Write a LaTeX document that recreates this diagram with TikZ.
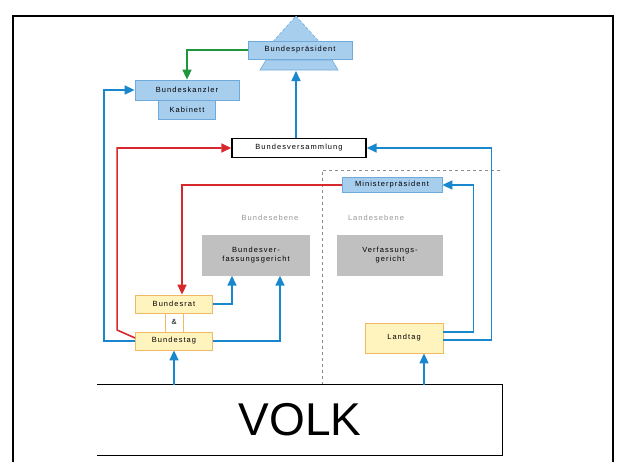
\documentclass[tikz,border=0pt]{standalone}
\usepackage{fontspec}
\setmainfont{Liberation Sans}
\newfontfamily\schild[LetterSpace=14]{Liberation Sans}
\usepackage{tikz}
\usetikzlibrary{arrows.meta,calc,positioning}
\definecolor{amtblau}{RGB}{168,206,238}
\definecolor{amtrand}{RGB}{110,170,220}
\definecolor{pfeilblau}{RGB}{25,135,205}
\definecolor{pfeilrot}{RGB}{215,40,45}
\definecolor{pfeilgruen}{RGB}{30,150,60}
\definecolor{parlgelb}{RGB}{255,243,190}
\definecolor{parlrand}{RGB}{240,185,100}
\definecolor{gerichtgrau}{RGB}{192,192,192}
\definecolor{ebenegrau}{RGB}{150,150,150}
\tikzset{
  >={Triangle[length=10pt,width=9pt]},
  amt/.style={rectangle, fill=amtblau, draw=amtrand, line width=0.8pt, inner sep=1pt,
              font=\schild\fontsize{7.5}{8}\selectfont},
  parlament/.style={rectangle, fill=parlgelb, draw=parlrand, line width=0.8pt, inner sep=1pt,
              font=\schild\fontsize{7.5}{8}\selectfont},
  gericht/.style={rectangle, fill=gerichtgrau, inner sep=1pt, align=center,
              font=\schild\fontsize{7.5}{9}\selectfont},
  ebene/.style={text=ebenegrau, font=\schild\fontsize{7.5}{8}\selectfont},
  blau/.style={draw=pfeilblau, line width=1.6pt, ->},
  rot/.style={draw=pfeilrot, line width=1.6pt, ->},
  gruen/.style={draw=pfeilgruen, line width=1.6pt, ->},
  trenner/.style={draw=black!45, dashed, line width=0.5pt}
}
\begin{document}
\begin{tikzpicture}[x=1pt,y=-1pt]
\useasboundingbox (0,0) rectangle (621,461);
% Rahmen
\draw[line width=1.6pt] (13,470) -- (13,16) -- (613,16) -- (613,470);
% Ebenen
\draw[trenner] (322,385) -- (322,170) -- (502,170);
\node[ebene] (bundesebene) at (270,218) {Bundesebene};
\node[ebene] (landesebene) at (376,218) {Landesebene};
% Bundespraesident mit Giebel und Sockel
\filldraw[fill=amtblau, draw=amtrand, densely dashed, line width=0.6pt]
  (296,16) -- (323,46) -- (269,46) -- cycle;
\filldraw[fill=amtblau, draw=amtrand, line width=0.6pt]
  (266,60) -- (332,60) -- (338,70) -- (260,70) -- cycle;
\node[amt, minimum width=104pt, minimum height=18pt] (praesident) at (300,50) {Bundespräsident};
\coordinate (sockel) at (296,71);
% Regierung
\node[amt, minimum width=104pt, minimum height=20pt] (kanzler) at (187,90) {Bundeskanzler};
\node[amt, minimum width=57pt, minimum height=19pt, below=0pt of kanzler] (kabinett) {Kabinett};
\node[draw=black, line width=1.4pt, fill=white, minimum width=134pt, minimum height=19pt,
      inner sep=1pt, font=\schild\fontsize{7.5}{8}\selectfont] (versammlung) at (299,148) {Bundesversammlung};
\node[amt, minimum width=100pt, minimum height=15pt] (minister) at (392,185) {Ministerpräsident};
% Gerichte
\node[gericht, minimum width=108pt, minimum height=41pt] (bverfg) at (256,255) {Bundesver-\\fassungsgericht};
\node[gericht, minimum width=106pt, minimum height=41pt] (verfg) at (390,255) {Verfassungs-\\gericht};
% Parlamente
\node[parlament, minimum width=77pt, minimum height=18pt] (bundesrat) at (174,304) {Bundesrat};
\node[parlament, minimum width=77pt, minimum height=18pt] (bundestag) at (174,341) {Bundestag};
\draw[parlrand, line width=0.8pt] (165,313) -- (165,332) (183,313) -- (183,332);
\node[font=\fontsize{7.5}{8}\selectfont] (und) at (174,322) {\&};
\node[parlament, minimum width=78pt, minimum height=30pt] (landtag) at (404,338) {Landtag};
% Volk
\node[minimum width=405pt, minimum height=70pt, font=\fontsize{46}{46}\selectfont] (volk) at (300,420) {VOLK};
\draw[line width=1.2pt] (volk.north west) -- (volk.north east) -- (volk.south east) -- (volk.south west);
% Verbindungen
\draw[gruen] (praesident.west) -| (kanzler.north);
\draw[blau] (versammlung.north -| sockel) -- (sockel);
\draw[blau] (bundestag.west) -- ++(-31,0) |- (kanzler.west);
\draw[rot] (bundestag.west) ++(0,-3) -- ++(-18,-8) |- (versammlung.west);
\draw[rot] (minister.west) -| (bundesrat.north -| 182,0);
\draw[blau] (bundesrat.east) -| (bverfg.south -| 232,0);
\draw[blau] (bundestag.east) -| (bverfg.south -| 280,0);
\draw[blau] ($(landtag.east)+(0,2)$) -- ++(48,0) |- (versammlung.east);
\draw[blau] ($(landtag.east)+(0,-6)$) -- ++(30,0) |- (minister.east);
\draw[blau] (volk.north -| bundestag) -- (bundestag.south);
\draw[blau] (volk.north -| 424,0) -- (landtag.south -| 424,0);
\end{tikzpicture}
\end{document}
